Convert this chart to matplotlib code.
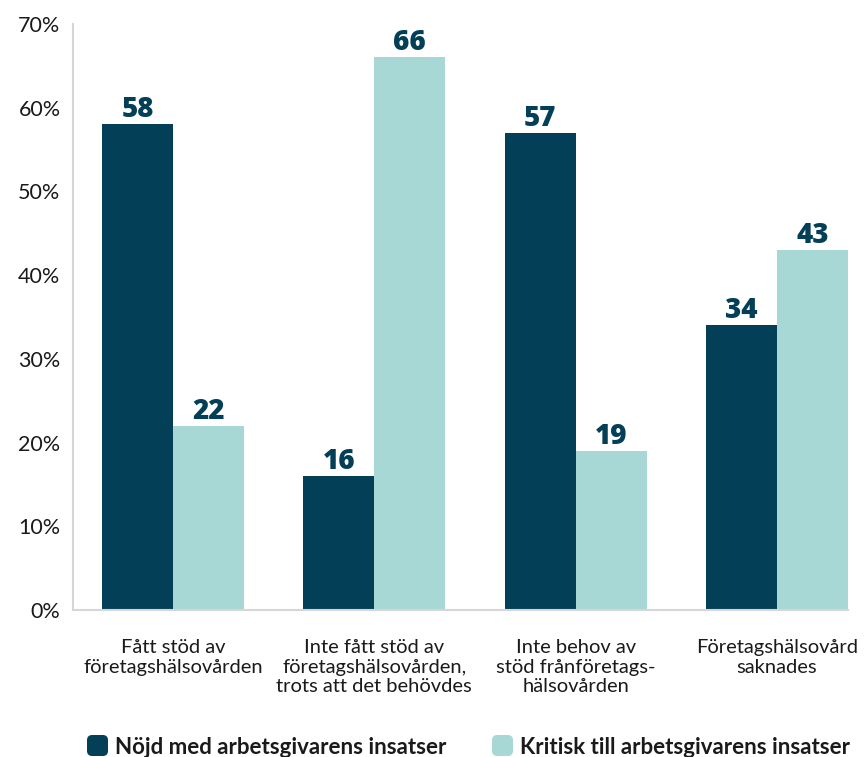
import matplotlib
matplotlib.use("Agg")
import matplotlib.pyplot as plt
import numpy as np
from matplotlib.patches import FancyBboxPatch

categories = [
    "Fått stöd av\nföretagshälsovården",
    "Inte fått stöd av\nföretagshälsovården,\ntrots att det behövdes",
    "Inte behov av\nstöd frånföretags-\nhälsovården",
    "Företagshälsovård\nsaknades",
]
series_names = ["Nöjd med arbetsgivarens insatser", "Kritisk till arbetsgivarens insatser"]
nojd = [58, 16, 57, 34]
kritisk = [22, 66, 19, 43]
y_ticks = [0, 10, 20, 30, 40, 50, 60, 70]
y_tick_labels = [f"{t}%" for t in y_ticks]

DARK = "#033f56"
LIGHT = "#a7d8d5"
AXIS = "#d6d6d6"
TEXT = "#1a1a1a"

W, H = 866, 757
fig = plt.figure(figsize=(W / 100, H / 100), dpi=100)
ax = fig.add_axes([73 / W, 1 - 610 / H, (848 - 73) / W, (610 - 24) / H])

x = np.arange(len(categories))
bw = 0.3527
b1 = ax.bar(x - bw / 2, nojd, width=bw, color=DARK, linewidth=0)
b2 = ax.bar(x + bw / 2, kritisk, width=bw, color=LIGHT, linewidth=0)

for bars, vals in ((b1, nojd), (b2, kritisk)):
    for rect, v in zip(bars, vals):
        ax.annotate(str(v), (rect.get_x() + rect.get_width() / 2, v),
                    xytext=(0, 7), textcoords="offset pixels",
                    ha="center", va="baseline", color=DARK,
                    fontsize=20, fontweight="heavy", family="Open Sans")

ax.set_xlim(-0.497, 3.353)
ax.set_ylim(0, 70)
ax.set_yticks(y_ticks)
ax.set_yticklabels(y_tick_labels, family="Lato", fontsize=15.5, color=TEXT)
ax.set_xticks(x)
ax.set_xticklabels(categories, family="Lato", fontsize=14.5, color=TEXT,
                   linespacing=1.17, va="top")
ax.tick_params(axis="both", length=0)
ax.tick_params(axis="y", pad=9)
ax.tick_params(axis="x", pad=21)

for s in ("top", "right"):
    ax.spines[s].set_visible(False)
for s in ("left", "bottom"):
    ax.spines[s].set_color(AXIS)
    ax.spines[s].set_linewidth(1.5)

# legend: rounded swatches with bold labels
for name, col, sx, tx in ((series_names[0], DARK, 87, 115), (series_names[1], LIGHT, 492, 520)):
    sw = FancyBboxPatch((sx / W, 1 - 756 / H), 21 / W, 21 / H,
                        boxstyle="round,pad=0,rounding_size=0.006",
                        transform=fig.transFigure, facecolor=col, edgecolor="none",
                        mutation_aspect=W / H)
    fig.patches.append(sw)
    fig.text(tx / W, 1 - 754 / H, name, ha="left", va="baseline",
             family="Lato", fontweight="bold", fontsize=16, color=TEXT)

fig.savefig("out.png", dpi=100)
